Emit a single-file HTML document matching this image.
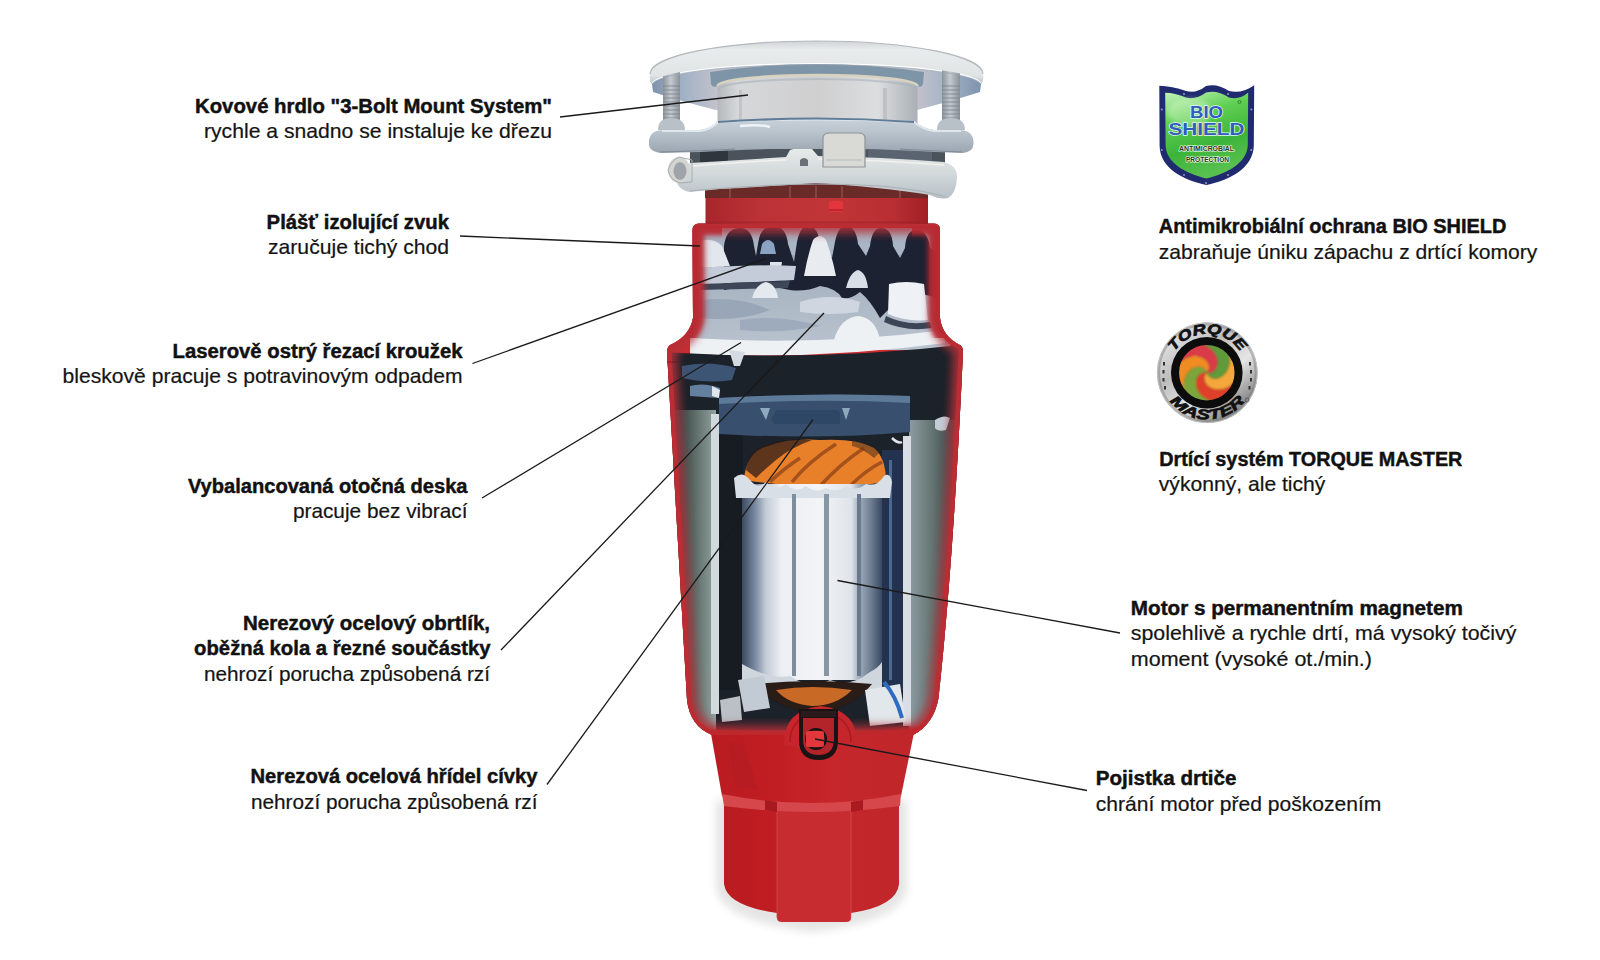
<!DOCTYPE html>
<html><head><meta charset="utf-8">
<style>
html,body{margin:0;padding:0;background:#fff;width:1600px;height:960px;overflow:hidden}
svg{display:block}
.b{font-family:"Liberation Sans",sans-serif;font-weight:700;font-size:20px;fill:#111;stroke:#111;stroke-width:0.45px}
.n{font-family:"Liberation Sans",sans-serif;font-weight:400;font-size:20.8px;fill:#141414;stroke:#141414;stroke-width:0.2px}
</style></head><body>
<svg width="1600" height="960" viewBox="0 0 1600 960">
<defs>
<linearGradient id="redH" x1="0" x2="1" y1="0" y2="0">
 <stop offset="0" stop-color="#a8262b"/><stop offset="0.25" stop-color="#bc3236"/><stop offset="0.55" stop-color="#c13538"/><stop offset="0.85" stop-color="#b82e32"/><stop offset="1" stop-color="#a01f24"/>
</linearGradient>
<linearGradient id="baseH" x1="0" x2="1" y1="0" y2="0">
 <stop offset="0" stop-color="#b81c21"/><stop offset="0.3" stop-color="#c11d22"/><stop offset="0.6" stop-color="#c5272b"/><stop offset="1" stop-color="#c0262b"/>
</linearGradient>
<linearGradient id="flangeBand" x1="0" x2="0" y1="0" y2="1">
 <stop offset="0" stop-color="#cfd3d5"/><stop offset="0.2" stop-color="#e9ecec"/><stop offset="0.8" stop-color="#e0e4e5"/><stop offset="1" stop-color="#b9c1c6"/>
</linearGradient>
<linearGradient id="throat" x1="0" x2="1" y1="0" y2="0">
 <stop offset="0" stop-color="#b4b8bc"/><stop offset="0.1" stop-color="#d6d7d9"/><stop offset="0.5" stop-color="#cfcfd0"/><stop offset="0.8" stop-color="#dcdddf"/><stop offset="1" stop-color="#aab0b6"/>
</linearGradient>
<linearGradient id="ring" x1="0" x2="0" y1="0" y2="1">
 <stop offset="0" stop-color="#c9d2da"/><stop offset="0.4" stop-color="#b9c3cc"/><stop offset="1" stop-color="#9aa5b0"/>
</linearGradient>
<linearGradient id="snap" x1="0" x2="0" y1="0" y2="1">
 <stop offset="0" stop-color="#e8ebea"/><stop offset="0.5" stop-color="#d3d9dc"/><stop offset="1" stop-color="#b7c0c6"/>
</linearGradient>
<linearGradient id="bolt" x1="0" x2="1" y1="0" y2="0">
 <stop offset="0" stop-color="#8c949c"/><stop offset="0.45" stop-color="#c5cad0"/><stop offset="1" stop-color="#8a9198"/>
</linearGradient>
<linearGradient id="motor" x1="0" x2="1" y1="0" y2="0">
 <stop offset="0" stop-color="#3a4a62"/><stop offset="0.1" stop-color="#7e8ea4"/><stop offset="0.17" stop-color="#c2cbd6"/><stop offset="0.28" stop-color="#eceff3"/><stop offset="0.55" stop-color="#f3f4f6"/><stop offset="0.78" stop-color="#dfe4ea"/><stop offset="0.84" stop-color="#9eabba"/><stop offset="0.92" stop-color="#6e7e92"/><stop offset="1" stop-color="#3a4860"/>
</linearGradient>
<linearGradient id="statorL" x1="0" x2="1" y1="0" y2="0">
 <stop offset="0" stop-color="#27313a"/><stop offset="0.45" stop-color="#55645f"/><stop offset="1" stop-color="#93a3a2"/>
</linearGradient>
<linearGradient id="statorR" x1="0" x2="1" y1="0" y2="0">
 <stop offset="0" stop-color="#8c9ca2"/><stop offset="0.5" stop-color="#62726f"/><stop offset="1" stop-color="#303c40"/>
</linearGradient>
<linearGradient id="upperChamber" x1="0" x2="0" y1="0" y2="1">
 <stop offset="0" stop-color="#8d9aac"/><stop offset="0.5" stop-color="#aab5c3"/><stop offset="1" stop-color="#b9c3cf"/>
</linearGradient>
<linearGradient id="edgeL" x1="0" x2="1" y1="0" y2="0">
 <stop offset="0" stop-color="#c8262b"/><stop offset="0.35" stop-color="#d23034"/><stop offset="1" stop-color="#d23034" stop-opacity="0"/>
</linearGradient>
<linearGradient id="edgeR" x1="1" x2="0" y1="0" y2="0">
 <stop offset="0" stop-color="#b81d22"/><stop offset="0.35" stop-color="#cc2b30"/><stop offset="1" stop-color="#cc2b30" stop-opacity="0"/>
</linearGradient>
<linearGradient id="orange" x1="0" x2="1" y1="0" y2="0">
 <stop offset="0" stop-color="#c85a1c"/><stop offset="0.4" stop-color="#f08a30"/><stop offset="1" stop-color="#d86a22"/>
</linearGradient>
<radialGradient id="shadow" cx="0.5" cy="0.5" r="0.5">
 <stop offset="0" stop-color="#000" stop-opacity="0.10"/><stop offset="1" stop-color="#000" stop-opacity="0"/>
</radialGradient>
<linearGradient id="shieldG" x1="0" x2="0.3" y1="0" y2="1">
 <stop offset="0" stop-color="#c6f3be"/><stop offset="0.35" stop-color="#5fcf52"/><stop offset="0.7" stop-color="#3cb43a"/><stop offset="1" stop-color="#57c04e"/>
</linearGradient>
<linearGradient id="silver" x1="0.1" x2="0.9" y1="0" y2="1">
 <stop offset="0" stop-color="#f2f2f2"/><stop offset="0.35" stop-color="#bdbdbd"/><stop offset="0.6" stop-color="#e6e6e6"/><stop offset="0.85" stop-color="#8e8e8e"/><stop offset="1" stop-color="#c8c8c8"/>
</linearGradient>
<linearGradient id="under" x1="0" x2="1" y1="0" y2="0">
 <stop offset="0" stop-color="#7f93ad"/><stop offset="0.1" stop-color="#a2b3c6"/><stop offset="0.2" stop-color="#c4c2cc"/><stop offset="0.5" stop-color="#b9c4d0"/><stop offset="0.8" stop-color="#c4c2cc"/><stop offset="0.9" stop-color="#a2b3c6"/><stop offset="1" stop-color="#7f93ad"/>
</linearGradient>
<filter id="blur1" x="-20%" y="-20%" width="140%" height="140%"><feGaussianBlur stdDeviation="1"/></filter>
<filter id="blur2" x="-20%" y="-20%" width="140%" height="140%"><feGaussianBlur stdDeviation="2"/></filter>
<filter id="blur4" x="-50%" y="-50%" width="200%" height="200%"><feGaussianBlur stdDeviation="4"/></filter>
<clipPath id="bodyClip"><path d="M692.5,230 Q692.5,223.5 699,223.5 L934,223.5 Q940,223.5 940,230 L940,318 Q942,336 960,345 Q963,347 963,352 Q953.5,560 938.5,698 Q934,724 913,735 L712,735 Q690,726 687,700 L667,352 Q667,347 670,345 Q690,336 693,318 Z"/></clipPath>
<clipPath id="swirlClip"><circle cx="1206.8" cy="372.7" r="28.5"/></clipPath>
<clipPath id="upperOnly"><rect x="600" y="226" width="122" height="112"/><rect x="912" y="226" width="100" height="112"/></clipPath>
<filter id="soft" x="0" y="0" width="1" height="1"><feGaussianBlur stdDeviation="0.6"/></filter>
</defs>
<g id="product">
<!-- shadow -->
<path d="M716,800 L907,800 L907,890 Q900,922 812,932 Q724,922 716,890 Z" fill="#000" opacity="0.10" filter="url(#blur4)"/>
<!-- base lower cylinder -->
<path d="M724,798 L899,798 L899,884 Q897,906 851,913 L777,913 Q727,906 724,884 Z" fill="url(#baseH)"/>
<path d="M777,806 L851,806 L851,918 Q851,922 846,922 L782,922 Q777,922 777,918 Z" fill="#c62c30"/>
<path d="M777,806 L777,918" stroke="#d2484c" stroke-width="1.2" opacity="0.7"/>
<path d="M851,806 L851,918" stroke="#e2676a" stroke-width="1" opacity="0.5"/>
<!-- base upper cylinder -->
<path d="M710,728 L915,728 L901,796 Q812,810 722,796 Z" fill="url(#baseH)"/>
<path d="M722,794 Q812,812 901,794 L900,806 Q812,818 724,806 Z" fill="#d6474b"/>
<path d="M765,800 L777,802 L777,812 L765,810 Z M851,802 L863,800 L863,810 L851,812 Z" fill="#a81a1f"/>
<path d="M728,742 L744,746 L758,790 L736,786 Z" fill="#b01c22" opacity="0.5"/>
<!-- body silhouette -->
<path id="bodyPath" d="M692.5,230 Q692.5,223.5 699,223.5 L934,223.5 Q940,223.5 940,230 L940,318 Q942,336 960,345 Q963,347 963,352 Q953.5,560 938.5,698 Q934,724 913,735 L712,735 Q690,726 687,700 L667,352 Q667,347 670,345 Q690,336 693,318 Z" fill="#cd2c30"/>
<g clip-path="url(#bodyClip)">
<g filter="url(#soft)">
 <!-- ===== upper chamber ===== -->
 <rect x="690" y="223" width="260" height="127" fill="url(#upperChamber)"/>
 <rect x="690" y="223" width="260" height="32" fill="#a9b5c4"/>
 <g fill="#1b2131">
  <path d="M724,290 L724,246 Q726,228 740,228 Q752,228 754,246 L756,256 L758,244 Q760,226 773,226 Q786,226 788,244 L794,262 L797,242 Q800,226 808,226 Q818,226 820,244 L832,258 L835,242 Q838,226 846,226 Q856,226 858,244 L866,256 L870,246 Q872,228 881,228 Q892,228 893,246 L900,258 L905,248 Q906,230 916,230 Q928,230 930,248 L940,254 L940,300 Q926,292 912,296 Q900,300 888,310 L880,318 Q870,300 860,292 Q850,300 842,298 Q836,288 820,286 Q806,292 790,290 L760,284 Z"/>
 </g>
 <path d="M698,242 Q712,236 722,246 L730,266 L698,268 Z" fill="#e2e7ed"/>
 <path d="M804,276 Q808,254 813,240 Q820,232 826,240 Q832,256 836,276 Z" fill="#e8ecf1"/>
 <path d="M762,244 Q768,236 774,244 L776,254 L760,254 Z" fill="#8aa4c4"/>
 <path d="M770,262 L782,262 L781,269 L770,269 Z" fill="#dde3ea"/>
 <path d="M846,288 Q850,272 858,270 Q866,272 868,288 Z" fill="#d9dfe7"/>
 <path d="M889,284 Q906,280 924,284 L928,320 Q906,322 888,314 Z" fill="#eef1f5"/>
 <path d="M886,316 Q906,326 930,322 L932,328 Q906,332 884,322 Z" fill="#3a4456"/>
 <path d="M700,268 Q760,264 796,266 L794,280 Q760,282 700,284 Z" fill="#c3ccd8"/>
 <path d="M700,284 Q750,282 790,281 L788,288 Q750,289 700,290 Z" fill="#3c4658"/>
 <path d="M752,298 Q756,284 766,282 Q776,284 778,298 Z" fill="#e4e9ef"/>
 <path d="M800,302 Q830,292 860,302 L858,312 Q830,316 800,312 Z" fill="#cfd6df"/>
 <path d="M834,340 Q840,318 858,316 Q876,318 880,340 Z" fill="#eef1f4"/>
 <path d="M700,300 Q740,296 770,310 Q740,322 700,318 Z" fill="#98a6b8"/>
 <path d="M740,320 Q780,314 820,326 Q780,334 740,330 Z" fill="#9eabbc"/>
 <!-- white rim -->
 <path d="M690,338 Q820,346 945,330 L945,343 Q820,360 690,354 Z" fill="#eef1f4"/>
 <!-- ===== lower chamber ===== -->
 <path d="M660,352 Q820,362 970,344 L970,740 L660,740 Z" fill="#1c2029"/>
 <path d="M729,350 L745,352 L740,366 L734,366 Z" fill="#d4dbe2"/>
 <path d="M682,366 Q710,360 736,368 L732,380 Q708,384 682,378 Z" fill="#3d5574"/>
 <path d="M690,386 Q704,382 720,388 L718,398 L690,396 Z" fill="#64809e"/>
 <path d="M712,386 L720,390 L719,398 L712,396 Z" fill="#dfe6ed"/>
 <!-- stators -->
 <path d="M672,410 L716,410 L716,735 L690,735 Z" fill="url(#statorL)"/>
 <rect x="711" y="414" width="8" height="300" fill="#d2d9dd"/>
 <path d="M909,420 L958,420 L940,735 L909,735 Z" fill="url(#statorR)"/>
 <rect x="903" y="436" width="8" height="290" fill="#d8dee3"/>
 <rect x="882" y="450" width="21" height="240" fill="#22324f"/>
 <rect x="889" y="460" width="3" height="220" fill="#4b6890"/>
 <rect x="719" y="430" width="24" height="260" fill="#161a22"/>
 <path d="M935,420 Q944,414 950,418 L946,430 Q938,432 935,428 Z" fill="#c2ccd6"/>
 <path d="M892,438 Q898,444 902,442" stroke="#dfe5ea" stroke-width="2.5" fill="none"/>
 <!-- motor top housing -->
 <path d="M719,398 Q820,392 910,396 L910,432 Q820,440 719,434 Z" fill="#37506e"/>
 <path d="M719,398 Q820,392 910,396 L910,403 Q820,398 719,404 Z" fill="#5d7a98"/>
 <path d="M776,410 L836,410 Q840,410 840,416 L840,424 L776,424 Q772,424 772,418 Z" fill="#2e4666"/>
 <path d="M760,408 L766,420 L770,408 Z M842,408 L846,420 L850,408 Z" fill="#8ea8c0"/>
 <!-- orange coil -->
 <path d="M744,480 Q746,452 768,446 Q790,438 820,440 Q856,438 874,448 Q886,458 886,482 Q820,492 744,480 Z" fill="#e8802c"/>
 <path d="M746,470 Q748,450 768,444 Q790,438 812,440 Q790,448 776,460 Q764,470 756,478 Z" fill="#2e1c16" opacity="0.75"/>
 <path d="M852,441 Q872,444 880,452 L874,458 Q862,448 852,446 Z" fill="#3a2418" opacity="0.5"/>
 <g stroke="#7a3212" stroke-width="3.5" opacity="0.6" fill="none">
  <path d="M792,482 Q808,462 836,444"/><path d="M820,486 Q840,464 864,448"/><path d="M850,486 Q866,470 882,462"/><path d="M770,482 Q782,470 800,458"/>
 </g>
 <!-- motor body -->
 <rect x="742" y="484" width="140" height="196" fill="url(#motor)"/>
 <path d="M734,478 Q742,470 750,480 Q758,490 766,482 Q776,492 786,484 Q796,494 806,486 Q816,494 826,488 Q836,494 846,486 Q856,492 866,484 Q876,488 884,476 Q890,472 892,482 L890,498 L736,498 Z" fill="#d9dfe7"/>
 <rect x="792" y="494" width="4" height="182" fill="#7e8c9c"/>
 <rect x="824" y="494" width="5" height="182" fill="#8896a4"/>
 <rect x="857" y="494" width="4" height="182" fill="#6a7a8e"/>
 <path d="M742,664 Q770,680 790,676 Q810,690 830,680 Q850,688 870,672 Q878,668 882,662 L882,690 L742,690 Z" fill="#cfd6de"/>
 <path d="M756,684 Q812,678 872,684 Q850,712 812,712 Q776,710 756,684 Z" fill="#2a1a14"/>
 <path d="M776,690 Q812,684 852,690 Q836,706 812,706 Q788,704 776,690 Z" fill="#c86a26"/>
 <path d="M738,680 L764,676 L770,708 L744,712 Z" fill="#c2cad3"/>
 <path d="M865,690 L900,684 L906,722 L870,726 Z" fill="#e2e7ec"/>
 <path d="M884,682 Q896,696 902,718" stroke="#2e6cc0" stroke-width="4" fill="none"/>
 <path d="M720,700 L740,696 L742,720 L722,722 Z" fill="#e4e8ee" opacity="0.8"/>
</g>
 <!-- inner red glow along edges -->
 <path d="M692.5,230 Q692.5,223.5 699,223.5 L934,223.5 Q940,223.5 940,230 L940,318 Q942,336 960,345 Q963,347 963,352 Q953.5,560 938.5,698 Q934,724 913,735 L712,735 Q690,726 687,700 L667,352 Q667,347 670,345 Q690,336 693,318 Z" fill="none" stroke="#b3323a" stroke-width="20" filter="url(#blur4)" opacity="0.85"/>
 <path d="M692.5,230 Q692.5,223.5 699,223.5 L934,223.5 Q940,223.5 940,230 L940,318 Q942,336 960,345 Q963,347 963,352 Q953.5,560 938.5,698 Q934,724 913,735 L712,735 Q690,726 687,700 L667,352 Q667,347 670,345 Q690,336 693,318 Z" fill="none" stroke="#bb2d33" stroke-width="9"/>
 <!-- extra upper red -->
 <g clip-path="url(#upperOnly)">
 <path d="M692.5,230 Q692.5,223.5 699,223.5 L934,223.5 Q940,223.5 940,230 L940,318 Q942,336 960,345 Q963,347 963,352 Q953.5,560 938.5,698 Q934,724 913,735 L712,735 Q690,726 687,700 L667,352 Q667,347 670,345 Q690,336 693,318 Z" fill="none" stroke="#b82c32" stroke-width="22" filter="url(#blur2)" opacity="0.9"/>
 </g>
 <!-- bottom red -->
 <path d="M660,724 Q812,744 970,720 L970,760 L660,760 Z" fill="#bf262b" filter="url(#blur2)"/>
</g>
<path d="M667,362 L678,362" stroke="#5a1014" stroke-width="1" opacity="0.6"/>
<!-- fuse hump -->
<path d="M784,745 Q783,710 821,706 Q858,710 857,745 Q821,754 784,745 Z" fill="#c4262b"/>
<path d="M790,742 Q790,716 821,712 Q851,716 851,742" fill="none" stroke="#a81c22" stroke-width="1.5"/>
<path d="M799,709 L838,709 L838,740 Q838,760 818.5,760 Q799,760 799,740 Z" fill="#1a1214"/>
<path d="M803,718 L834,718 L834,739 Q834,755 818.5,755 Q803,755 803,739 Z" fill="#b3242a"/>
<rect x="801" y="711" width="35" height="6" fill="#2a1a1c"/>
<circle cx="816" cy="739" r="11" fill="#151012"/>
<circle cx="816" cy="739" r="9" fill="#5a2024"/>
<rect x="806" y="731" width="18" height="16" rx="2" fill="#e2383c"/>
<!-- red collar -->
<rect x="705.5" y="196" width="222.5" height="28" fill="url(#redH)"/>
<rect x="705.5" y="221.5" width="222.5" height="2" fill="#9a2026" opacity="0.5"/>
<rect x="829" y="201" width="14" height="11" rx="2" fill="#e3353b"/>
<path d="M829,210 L843,210" stroke="#9a1a20" stroke-width="1"/>
<!-- flange underside -->
<path d="M652,84 A165,21 0 0 1 981,84 L980,92 Q955,100 917,110 L716,110 Q680,101 653,92 Z" fill="url(#under)"/>
<!-- throat -->
<path d="M717.5,86 A100,11 0 0 1 917.5,86 L917.5,126 A100,8 0 0 1 717.5,126 Z" fill="url(#throat)"/>
<path d="M710,72 Q816,56 924,72 L923,84 Q922,88 917.5,86 A100,11 0 0 0 717.5,86 Q712,88 711,84 Z" fill="#7e95a8"/>
<path d="M717.5,86 A100,11 0 0 1 917.5,86" stroke="#d9d2c0" stroke-width="2.5" fill="none"/>
<path d="M719,89.5 A98,10.5 0 0 1 916,89.5" stroke="#a9b2ba" stroke-width="2" fill="none" opacity="0.6"/>
<path d="M717.5,126 A100,8 0 0 0 917.5,126" stroke="#4f6a86" stroke-width="2.5" fill="none"/>
<rect x="739" y="90" width="3" height="34" fill="#b9bcbf" opacity="0.7"/>
<rect x="883" y="88" width="4" height="36" fill="#bfc2c5"/>
<!-- gap -->
<path d="M690,146 L945,146 L945,166 L690,166 Z" fill="#4a525c"/>
<path d="M700,150 L728,150 L728,164 L700,164 Z" fill="#30363e"/>
<path d="M868,150 L932,150 L932,164 L868,164 Z" fill="#5a6470"/>
<!-- dark area under snap ring -->
<path d="M705,184 Q816,176 928,186 L928,198 L705,198 Z" fill="#6a2a28"/>
<g stroke="#b07068" stroke-width="1.2" opacity="0.6"><path d="M730,188v10M790,186v12M816,186v12M842,186v12M900,188v10"/></g>
<!-- snap ring -->
<path d="M690,163 Q740,160 786,157 L790,150 Q800,146 812,149 L818,156 Q880,157 944,162 Q958,166 957,178 Q956,194 948,198 Q940,200 930,195 Q880,187 816,183 Q760,187 720,189 L690,192 Q678,190 676,180 Q676,168 690,163 Z" fill="url(#snap)"/>
<path d="M690,191 Q720,188 760,186 Q816,182 880,186 Q925,190 945,197" stroke="#a9b0b4" stroke-width="1.2" fill="none"/>
<path d="M692,166 Q740,162 786,160 M818,159 Q880,160 944,165" stroke="#f2f2ee" stroke-width="1.5" fill="none"/>
<path d="M800,160 Q804,156 808,160 L808,166 L800,166 Z" fill="#6a7078"/>
<ellipse cx="679" cy="170" rx="11" ry="13" fill="#d4d6d4"/>
<ellipse cx="680" cy="171" rx="6.5" ry="9" fill="#9ea4aa"/>
<path d="M668,170 Q672,160 679,157 L692,160 L692,182 L680,183 Q670,180 668,170 Z" fill="none" stroke="#a8acae" stroke-width="1"/>
<!-- mounting ring -->
<path d="M649,144 Q648,131 662,130 L700,130 Q712,128 718,121 Q816,116 914,121 Q922,128 934,130 L961,130 Q974,131 973.5,144 Q973,152 963,153 L935,152 Q900,150 860,149 L770,149 Q730,150 700,152 L662,153 Q649,152 649,144 Z" fill="url(#ring)"/>
<path d="M662,131 L700,131 Q712,129 718,122 Q816,117 914,122 Q922,129 934,131 L961,131" stroke="#dfe6ec" stroke-width="2" fill="none"/>
<path d="M718,122 Q816,115 914,122" stroke="#5f7c98" stroke-width="2.2" fill="none"/>
<path d="M740,126 Q760,124 770,127" stroke="#eef3f7" stroke-width="2.5" fill="none"/>
<path d="M660,152 Q700,151 735,149 M900,149 Q935,151 962,152" stroke="#7e8a96" stroke-width="1.2" fill="none"/>
<!-- clip -->
<path d="M823,138 Q823,133 830,133 L858,133 Q865,133 865,138 L865,167 L823,167 Z" fill="#d9dad6"/>
<path d="M823,138 Q823,133 830,133 L858,133 Q865,133 865,138 L865,167 L823,167 Z" fill="none" stroke="#8f9496" stroke-width="1.2"/>
<path d="M826,160 L862,160" stroke="#b8bcbc" stroke-width="1"/>
<!-- bolts -->
<rect x="663" y="68" width="17" height="54" fill="url(#bolt)"/>
<rect x="942" y="70" width="18" height="52" fill="url(#bolt)"/>
<g stroke="#7b8188" stroke-width="1" opacity="0.8">
 <path d="M663,86h17M663,90h17M663,94h17M663,98h17M663,102h17M663,106h17M663,110h17M663,114h17M663,118h17"/>
 <path d="M942,86h18M942,90h18M942,94h18M942,98h18M942,102h18M942,106h18M942,110h18M942,114h18M942,118h18"/>
</g>
<path d="M658,130 Q658,118 671,118 Q685,118 685,130 Z" fill="#b8c0c8"/>
<path d="M937,130 Q937,118 951,118 Q965,118 965,130 Z" fill="#b8c0c8"/>
<!-- flange band -->
<path d="M650,74 A166.5,33 0 0 1 983,74 Q984,80 981.5,84 A165,21 0 0 0 651.5,84 Q649,80 650,74 Z" fill="url(#flangeBand)"/>
<path d="M650,74 A166.5,33 0 0 1 983,74" stroke="#b3b8bc" stroke-width="1.2" fill="none"/>
<path d="M652,84 A165,21 0 0 1 981,84" stroke="#9aa6b2" stroke-width="1" fill="none" opacity="0.7"/>
</g>

<!-- LEADER LINES -->
<g stroke="#1a1a1a" stroke-width="1.3" fill="none">
<line x1="560" y1="117" x2="748" y2="95"/>
<line x1="460" y1="236" x2="700" y2="246"/>
<line x1="472.5" y1="363.5" x2="766" y2="258.5"/>
<line x1="482" y1="498" x2="741" y2="342.5"/>
<line x1="501" y1="650" x2="824" y2="313"/>
<line x1="547" y1="784.5" x2="813" y2="419.5"/>
<line x1="837.5" y1="580.5" x2="1120" y2="633"/>
<line x1="815" y1="739" x2="1087" y2="790.5"/>
</g>
<!-- TEXT LEFT -->
<g text-anchor="end">
<text class="b" x="552.0" y="112.5" textLength="357.0" lengthAdjust="spacingAndGlyphs">Kovové hrdlo "3-Bolt Mount System"</text>
<text class="n" x="552.0" y="138" textLength="348.0" lengthAdjust="spacingAndGlyphs">rychle a snadno se instaluje ke dřezu</text>
<text class="b" x="449.0" y="228.5" textLength="182.4" lengthAdjust="spacingAndGlyphs">Plášť izolující zvuk</text>
<text class="n" x="449.0" y="254.4" textLength="181.0" lengthAdjust="spacingAndGlyphs">zaručuje tichý chod</text>
<text class="b" x="462.5" y="358.2" textLength="290.0" lengthAdjust="spacingAndGlyphs">Laserově ostrý řezací kroužek</text>
<text class="n" x="462.5" y="383.2" textLength="400.0" lengthAdjust="spacingAndGlyphs">bleskově pracuje s potravinovým odpadem</text>
<text class="b" x="467.5" y="493" textLength="279.6" lengthAdjust="spacingAndGlyphs">Vybalancovaná otočná deska</text>
<text class="n" x="467.5" y="518" textLength="174.6" lengthAdjust="spacingAndGlyphs">pracuje bez vibrací</text>
<text class="b" x="490.0" y="630" textLength="247.0" lengthAdjust="spacingAndGlyphs">Nerezový ocelový obrtlík,</text>
<text class="b" x="490.5" y="655" textLength="296.4" lengthAdjust="spacingAndGlyphs">oběžná kola a řezné součástky</text>
<text class="n" x="490.0" y="681" textLength="286.0" lengthAdjust="spacingAndGlyphs">nehrozí porucha způsobená rzí</text>
<text class="b" x="537.5" y="782.6" textLength="287.0" lengthAdjust="spacingAndGlyphs">Nerezová ocelová hřídel cívky</text>
<text class="n" x="537.5" y="808.6" textLength="286.6" lengthAdjust="spacingAndGlyphs">nehrozí porucha způsobená rzí</text>
</g>
<!-- TEXT RIGHT -->
<g text-anchor="start">
<text class="b" x="1158.8" y="233" textLength="347.6" lengthAdjust="spacingAndGlyphs">Antimikrobiální ochrana BIO SHIELD</text>
<text class="n" x="1158.8" y="258.7" textLength="378.6" lengthAdjust="spacingAndGlyphs">zabraňuje úniku zápachu z drtící komory</text>
<text class="b" x="1159.3" y="465.7" textLength="303.1" lengthAdjust="spacingAndGlyphs">Drtící systém TORQUE MASTER</text>
<text class="n" x="1158.8" y="491" textLength="166.6" lengthAdjust="spacingAndGlyphs">výkonný, ale tichý</text>
<text class="b" x="1130.8" y="615" textLength="332.0" lengthAdjust="spacingAndGlyphs">Motor s permanentním magnetem</text>
<text class="n" x="1130.8" y="640.4" textLength="385.6" lengthAdjust="spacingAndGlyphs">spolehlivě a rychle drtí, má vysoký točivý</text>
<text class="n" x="1130.8" y="666" textLength="241.2" lengthAdjust="spacingAndGlyphs">moment (vysoké ot./min.)</text>
<text class="b" x="1095.8" y="785.4" textLength="140.6" lengthAdjust="spacingAndGlyphs">Pojistka drtiče</text>
<text class="n" x="1095.8" y="811" textLength="285.6" lengthAdjust="spacingAndGlyphs">chrání motor před poškozením</text>
</g>
<!-- LOGOS -->
<g id="logos">
<!-- BIO SHIELD -->
<path d="M1159.3,85.8 Q1172,86 1186,91 Q1196,94 1206,86 Q1217,83 1229,91 Q1242,94 1254.2,85.2 L1253.8,146 C1253,168 1230,180 1206.5,185 C1183,180 1160,168 1159.6,146 Z" fill="#1f2b6e"/>
<path d="M1165.2,92.8 Q1175,93 1186,97.5 Q1196,100 1206,92.5 Q1217,89.5 1229,97.5 Q1240,100 1248.2,92.5 L1247.8,145 C1247,163 1228,173 1206.5,178.5 C1185,173 1166,163 1165.6,145 Z" fill="url(#shieldG)"/>
<ellipse cx="1190" cy="112" rx="22" ry="14" fill="#e8ffe0" opacity="0.35" filter="url(#blur2)"/>
<g fill="#8a94b4">
<circle cx="1161.8" cy="109.5" r="1.1"/><circle cx="1161.8" cy="150" r="1.1"/><circle cx="1251.3" cy="109.5" r="1.1"/><circle cx="1251.3" cy="150" r="1.1"/>
<circle cx="1184" cy="94" r="1.1"/><circle cx="1228" cy="94" r="1.1"/><circle cx="1184" cy="175" r="1.1"/><circle cx="1228" cy="175" r="1.1"/><circle cx="1206" cy="183" r="1.1"/>
</g>
<g font-family="Liberation Sans, sans-serif" font-weight="700" text-anchor="middle">
<text x="1206.5" y="117.5" font-size="16.5" textLength="33" lengthAdjust="spacingAndGlyphs" fill="#2f5db8" stroke="#e6f7ff" stroke-width="1.3" paint-order="stroke">BIO</text>
<text x="1206.5" y="134.5" font-size="17" textLength="76" lengthAdjust="spacingAndGlyphs" fill="#2f5db8" stroke="#e6f7ff" stroke-width="1.3" paint-order="stroke">SHIELD</text>
<text x="1206.5" y="151.3" font-size="6.3" textLength="55" lengthAdjust="spacingAndGlyphs" fill="#1e3520" stroke="#f2fff0" stroke-width="1.2" paint-order="stroke">ANTIMICROBIAL</text>
<text x="1207.5" y="162.3" font-size="6.3" textLength="43" lengthAdjust="spacingAndGlyphs" fill="#1e3520" stroke="#f2fff0" stroke-width="1.2" paint-order="stroke">PROTECTION</text>
</g>
<circle cx="1239.5" cy="102" r="1.5" fill="none" stroke="#225522" stroke-width="0.6"/>
<!-- TORQUE MASTER -->
<circle cx="1207.3" cy="372.7" r="50.2" fill="url(#silver)"/>
<circle cx="1207.3" cy="372.7" r="48.7" fill="none" stroke="#7a7a7a" stroke-width="3" opacity="0.45"/>
<circle cx="1207.3" cy="372.7" r="50" fill="none" stroke="#c8c8c8" stroke-width="0.8"/>
<circle cx="1206.8" cy="372.7" r="35.8" fill="#0c0c0c"/>
<g clip-path="url(#swirlClip)"><g filter="url(#blur1)">
<path d="M1206.8,372.7 L1206.0,373.5 L1205.4,374.5 L1204.9,375.5 L1204.6,376.7 L1204.4,377.9 L1204.5,379.1 L1204.7,380.3 L1205.1,381.6 L1205.7,382.8 L1206.5,384.0 L1207.4,385.2 L1208.6,386.2 L1209.9,387.1 L1211.3,387.9 L1213.0,388.5 L1214.7,389.0 L1216.6,389.3 L1218.5,389.4 L1220.5,389.3 L1222.6,389.0 L1224.7,388.4 L1226.8,387.6 L1228.9,386.5 L1230.9,385.3 L1232.9,383.7 L1234.8,382.0 L1236.5,380.0 L1238.1,377.8 L1239.6,375.3 L1240.8,372.7 L1240.3,378.6 L1238.7,384.3 L1236.2,389.7 L1232.8,394.6 L1228.7,398.7 L1223.8,402.1 L1220.9,402.4 L1218.1,402.4 L1215.4,402.1 L1212.8,401.6 L1210.3,400.8 L1208.0,399.9 L1205.9,398.7 L1203.9,397.5 L1202.2,396.0 L1200.6,394.5 L1199.3,392.9 L1198.2,391.2 L1197.3,389.5 L1196.6,387.7 L1196.2,386.0 L1195.9,384.2 L1195.9,382.6 L1196.0,381.0 L1196.3,379.5 L1196.8,378.1 L1197.5,376.8 L1198.2,375.7 L1199.1,374.7 L1200.1,373.9 L1201.2,373.2 L1202.3,372.8 L1203.4,372.5 L1204.6,372.4 L1205.7,372.4 L1206.8,372.7Z" fill="#e0402a"/>
<path d="M1206.8,372.7 L1205.7,372.4 L1204.6,372.4 L1203.4,372.5 L1202.3,372.8 L1201.2,373.2 L1200.1,373.9 L1199.1,374.7 L1198.2,375.7 L1197.5,376.8 L1196.8,378.1 L1196.3,379.5 L1196.0,381.0 L1195.9,382.6 L1195.9,384.2 L1196.2,386.0 L1196.6,387.7 L1197.3,389.5 L1198.2,391.2 L1199.3,392.9 L1200.6,394.5 L1202.2,396.0 L1203.9,397.5 L1205.9,398.7 L1208.0,399.9 L1210.3,400.8 L1212.8,401.6 L1215.4,402.1 L1218.1,402.4 L1220.9,402.4 L1223.8,402.1 L1218.4,404.6 L1212.7,406.2 L1206.8,406.7 L1200.9,406.2 L1195.2,404.6 L1189.8,402.1 L1188.1,399.8 L1186.8,397.3 L1185.6,394.8 L1184.8,392.3 L1184.2,389.8 L1183.9,387.3 L1183.8,384.9 L1183.9,382.6 L1184.3,380.3 L1184.8,378.2 L1185.6,376.3 L1186.5,374.5 L1187.5,372.8 L1188.7,371.4 L1190.0,370.1 L1191.4,369.0 L1192.8,368.2 L1194.2,367.5 L1195.7,367.0 L1197.2,366.7 L1198.6,366.7 L1199.9,366.8 L1201.2,367.0 L1202.4,367.5 L1203.5,368.1 L1204.5,368.8 L1205.3,369.7 L1206.0,370.6 L1206.5,371.6 L1206.8,372.7Z" fill="#7aa63a"/>
<path d="M1206.8,372.7 L1206.5,371.6 L1206.0,370.6 L1205.3,369.7 L1204.5,368.8 L1203.5,368.1 L1202.4,367.5 L1201.2,367.0 L1199.9,366.8 L1198.6,366.7 L1197.2,366.7 L1195.7,367.0 L1194.2,367.5 L1192.8,368.2 L1191.4,369.0 L1190.0,370.1 L1188.7,371.4 L1187.5,372.8 L1186.5,374.5 L1185.6,376.3 L1184.8,378.2 L1184.3,380.3 L1183.9,382.6 L1183.8,384.9 L1183.9,387.3 L1184.2,389.8 L1184.8,392.3 L1185.6,394.8 L1186.8,397.3 L1188.1,399.8 L1189.8,402.1 L1184.9,398.7 L1180.8,394.6 L1177.4,389.7 L1174.9,384.3 L1173.3,378.6 L1172.8,372.7 L1174.0,370.1 L1175.5,367.6 L1177.1,365.4 L1178.8,363.4 L1180.7,361.7 L1182.7,360.1 L1184.7,358.9 L1186.8,357.8 L1188.9,357.0 L1191.0,356.4 L1193.1,356.1 L1195.1,356.0 L1197.0,356.1 L1198.9,356.4 L1200.6,356.9 L1202.3,357.5 L1203.7,358.3 L1205.0,359.2 L1206.2,360.2 L1207.1,361.4 L1207.9,362.6 L1208.5,363.8 L1208.9,365.1 L1209.1,366.3 L1209.2,367.5 L1209.0,368.7 L1208.7,369.9 L1208.2,370.9 L1207.6,371.9 L1206.8,372.7Z" fill="#f08c24"/>
<path d="M1206.8,372.7 L1207.6,371.9 L1208.2,370.9 L1208.7,369.9 L1209.0,368.7 L1209.2,367.5 L1209.1,366.3 L1208.9,365.1 L1208.5,363.8 L1207.9,362.6 L1207.1,361.4 L1206.2,360.2 L1205.0,359.2 L1203.7,358.3 L1202.3,357.5 L1200.6,356.9 L1198.9,356.4 L1197.0,356.1 L1195.1,356.0 L1193.1,356.1 L1191.0,356.4 L1188.9,357.0 L1186.8,357.8 L1184.7,358.9 L1182.7,360.1 L1180.7,361.7 L1178.8,363.4 L1177.1,365.4 L1175.5,367.6 L1174.0,370.1 L1172.8,372.7 L1173.3,366.8 L1174.9,361.1 L1177.4,355.7 L1180.8,350.8 L1184.9,346.7 L1189.8,343.3 L1192.7,343.0 L1195.5,343.0 L1198.2,343.3 L1200.8,343.8 L1203.3,344.6 L1205.6,345.5 L1207.7,346.7 L1209.7,347.9 L1211.4,349.4 L1213.0,350.9 L1214.3,352.5 L1215.4,354.2 L1216.3,355.9 L1217.0,357.7 L1217.4,359.4 L1217.7,361.2 L1217.7,362.8 L1217.6,364.4 L1217.3,365.9 L1216.8,367.3 L1216.1,368.6 L1215.4,369.7 L1214.5,370.7 L1213.5,371.5 L1212.4,372.2 L1211.3,372.6 L1210.2,372.9 L1209.0,373.0 L1207.9,373.0 L1206.8,372.7Z" fill="#d93a48"/>
<path d="M1206.8,372.7 L1207.9,373.0 L1209.0,373.0 L1210.2,372.9 L1211.3,372.6 L1212.4,372.2 L1213.5,371.5 L1214.5,370.7 L1215.4,369.7 L1216.1,368.6 L1216.8,367.3 L1217.3,365.9 L1217.6,364.4 L1217.7,362.8 L1217.7,361.2 L1217.4,359.4 L1217.0,357.7 L1216.3,355.9 L1215.4,354.2 L1214.3,352.5 L1213.0,350.9 L1211.4,349.4 L1209.7,347.9 L1207.7,346.7 L1205.6,345.5 L1203.3,344.6 L1200.8,343.8 L1198.2,343.3 L1195.5,343.0 L1192.7,343.0 L1189.8,343.3 L1195.2,340.8 L1200.9,339.2 L1206.8,338.7 L1212.7,339.2 L1218.4,340.8 L1223.8,343.3 L1225.5,345.6 L1226.8,348.1 L1228.0,350.6 L1228.8,353.1 L1229.4,355.6 L1229.7,358.1 L1229.8,360.5 L1229.7,362.8 L1229.3,365.1 L1228.8,367.2 L1228.0,369.1 L1227.1,370.9 L1226.1,372.6 L1224.9,374.0 L1223.6,375.3 L1222.2,376.4 L1220.8,377.2 L1219.4,377.9 L1217.9,378.4 L1216.4,378.7 L1215.0,378.7 L1213.7,378.6 L1212.4,378.4 L1211.2,377.9 L1210.1,377.3 L1209.1,376.6 L1208.3,375.7 L1207.6,374.8 L1207.1,373.8 L1206.8,372.7Z" fill="#5f9a3a"/>
<path d="M1206.8,372.7 L1207.1,373.8 L1207.6,374.8 L1208.3,375.7 L1209.1,376.6 L1210.1,377.3 L1211.2,377.9 L1212.4,378.4 L1213.7,378.6 L1215.0,378.7 L1216.4,378.7 L1217.9,378.4 L1219.4,377.9 L1220.8,377.2 L1222.2,376.4 L1223.6,375.3 L1224.9,374.0 L1226.1,372.6 L1227.1,370.9 L1228.0,369.1 L1228.8,367.2 L1229.3,365.1 L1229.7,362.8 L1229.8,360.5 L1229.7,358.1 L1229.4,355.6 L1228.8,353.1 L1228.0,350.6 L1226.8,348.1 L1225.5,345.6 L1223.8,343.3 L1228.7,346.7 L1232.8,350.8 L1236.2,355.7 L1238.7,361.1 L1240.3,366.8 L1240.8,372.7 L1239.6,375.3 L1238.1,377.8 L1236.5,380.0 L1234.8,382.0 L1232.9,383.7 L1230.9,385.3 L1228.9,386.5 L1226.8,387.6 L1224.7,388.4 L1222.6,389.0 L1220.5,389.3 L1218.5,389.4 L1216.6,389.3 L1214.7,389.0 L1213.0,388.5 L1211.3,387.9 L1209.9,387.1 L1208.6,386.2 L1207.4,385.2 L1206.5,384.0 L1205.7,382.8 L1205.1,381.6 L1204.7,380.3 L1204.5,379.1 L1204.4,377.9 L1204.6,376.7 L1204.9,375.5 L1205.4,374.5 L1206.0,373.5 L1206.8,372.7Z" fill="#f4a83a"/>
</g></g>
<circle cx="1206.8" cy="372.7" r="28.5" fill="none" stroke="#0c0c0c" stroke-width="1.5"/>
<g font-family="Liberation Sans, sans-serif" font-weight="700" font-style="italic" fill="#111" stroke="#111" stroke-width="0.7">
 <path id="arcTop" d="M1171.2,358.0 A39,39 0 0 1 1243.4,358.0" fill="none" stroke="none"/>
 <path id="arcBot" d="M1164.8,392.5 A47,47 0 0 0 1249.8,392.5" fill="none" stroke="none"/>
 <text font-size="14"><textPath href="#arcTop" startOffset="50%" text-anchor="middle" textLength="78" lengthAdjust="spacingAndGlyphs">TORQUE</textPath></text>
 <text font-size="14"><textPath href="#arcBot" startOffset="50%" text-anchor="middle" textLength="86" lengthAdjust="spacingAndGlyphs">MASTER</textPath></text>
</g>
<g fill="#333">
 <rect x="1163" y="362" width="2" height="3.5"/><rect x="1162.5" y="370" width="2" height="3.5"/><rect x="1162.5" y="378" width="2" height="3.5"/><rect x="1164" y="386" width="2" height="3.5"/>
 <rect x="1249" y="362" width="2" height="3.5"/><rect x="1250" y="370" width="2" height="3.5"/><rect x="1250" y="378" width="2" height="3.5"/><rect x="1248.5" y="386" width="2" height="3.5"/>
</g>
<circle cx="1247" cy="400" r="2" fill="none" stroke="#333" stroke-width="0.5"/>
</g>

</svg>
</body></html>
